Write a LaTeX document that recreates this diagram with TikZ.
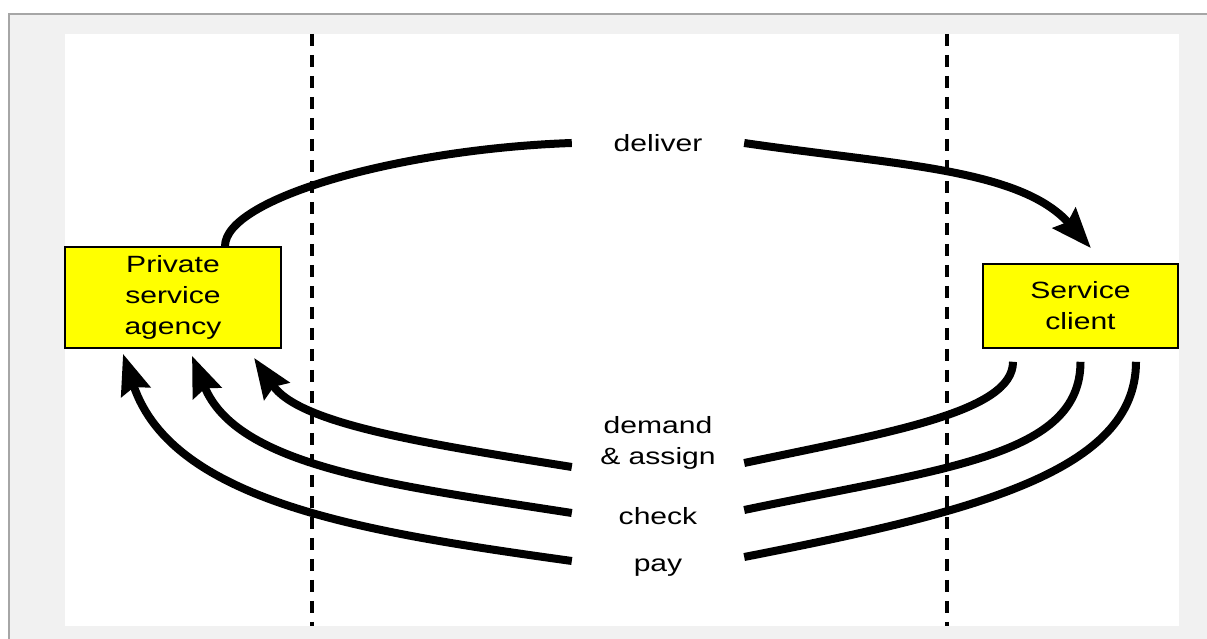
\documentclass[tikz,border=0pt]{standalone}
\usepackage{fontspec}
\setmainfont{Liberation Sans}[FakeStretch=1.28]
\usetikzlibrary{arrows.meta, positioning}
\definecolor{panel}{HTML}{F1F1F1}
\definecolor{frameline}{HTML}{A6A6A6}
\definecolor{boxfill}{HTML}{FFFF00}
\tikzset{
    actor/.style={draw=black, line width=1.6pt, fill=boxfill, align=center, inner sep=0pt},
    flow/.style={line width=8pt},
    flowlabel/.style={minimum width=172pt, inner sep=0pt, align=center},
    divider/.style={line width=3.5pt, dash pattern=on 12pt off 9pt},
    >={Stealth[length=40pt, width=30pt, inset=5pt]},
}

\begin{document}
\begin{tikzpicture}[x=1pt, y=1pt, font=\fontsize{23.5}{31}\selectfont]
        \useasboundingbox (0,0) rectangle (1207,639);
        \fill[panel] (9,0) rectangle (1207,625);
        \draw[frameline, line width=1.5pt] (9,0) -- (9,625) -- (1207,625);
        \fill[white] (65,13) rectangle (1179,605);

        \draw[divider] (312,605) -- (312,13);
        \draw[divider] (947,605) -- (947,13);

        \node[actor, minimum width=216pt, minimum height=101pt] (agency) at (173,341.5) {Private\\service\\agency};
        \node[actor, minimum width=195pt, minimum height=84pt] (client) at (1080.5,333) {Service\\client};

        \node[flowlabel] (deliver) at (658,496) {deliver};
        \node[flowlabel] (demand) at (658,196) {demand\\\& assign};
        \node[flowlabel] (check) at (658,123) {check};
        \node[flowlabel] (pay) at (658,71) {pay};

        \draw[flow] ([xshift=52]agency.north) .. controls +(0,48) and +(-172,-6) .. (deliver.west);
        \draw[flow, ->] (deliver.east) .. controls +(150,-22) and +(-71,80) .. ([shift={(10.5,15)}]client.north);

        \draw[flow] ([shift={(-67.5,-13)}]client.south) .. controls +(0,-50) and +(147,31) .. ([yshift=-20]demand.east);
        \draw[flow, ->] ([yshift=-24]demand.west) .. controls +(-150,24) and +(45,-66) .. ([shift={(81,-9)}]agency.south);

        \draw[flow] ([yshift=-13]client.south) .. controls +(0,-95) and +(200,42) .. ([yshift=6]check.east);
        \draw[flow, ->] ([yshift=3]check.west) .. controls +(-180,28) and +(45,-111) .. ([shift={(19,-7)}]agency.south);

        \draw[flow] ([shift={(55.5,-13)}]client.south) .. controls +(0,-110) and +(230,45) .. ([yshift=11]pay.east);
        \draw[flow, ->] ([yshift=7]pay.west) .. controls +(-200,28) and +(50,-150) .. ([shift={(-50,-5)}]agency.south);
\end{tikzpicture}
\end{document}
